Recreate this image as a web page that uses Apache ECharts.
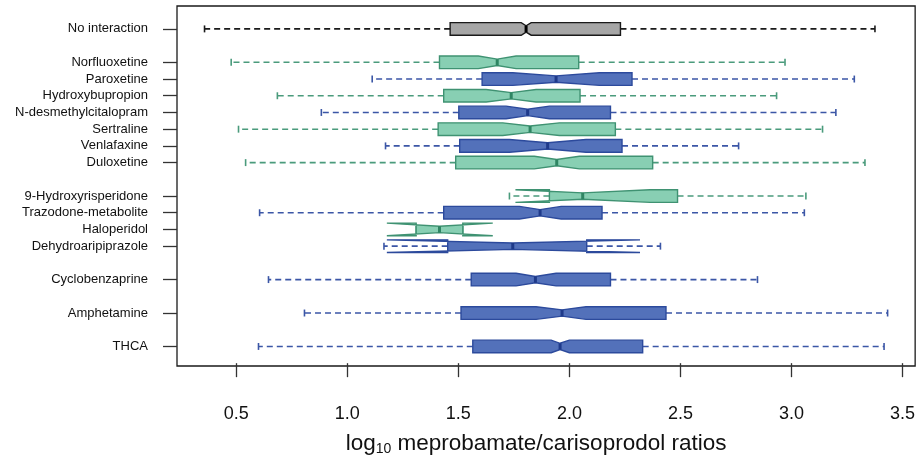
<!DOCTYPE html>
<html><head><meta charset="utf-8">
<script src="https://cdn.jsdelivr.net/npm/echarts@6/dist/echarts.min.js"></script>
<style>html,body{margin:0;padding:0;background:#fff}#c{width:918px;height:461px}</style>
</head><body><div id="c"></div>
<script>
// Rows from top to bottom; '' marks an empty slot between drug groups
const labels = ['No interaction','',
  'Norfluoxetine','Paroxetine','Hydroxybupropion','N-desmethylcitalopram','Sertraline','Venlafaxine','Duloxetine','',
  '9-Hydroxyrisperidone','Trazodone-metabolite','Haloperidol','Dehydroaripiprazole','',
  'Cyclobenzaprine','','Amphetamine','','THCA'];
// group: 0 = reference, 1 = green, 2 = blue
const groups      = [0,null, 1,2,1,2,1,2,1,null, 1,2,1,2,null, 2,null,2,null,2];
const whiskerLow  = [0.357,null, 0.477,1.112,0.685,0.883,0.510,1.172,0.542,null, 1.730,0.605,1.310,1.165,null, 0.645,null,0.807,null,0.600];
const q1          = [1.463,null, 1.415,1.607,1.434,1.502,1.409,1.506,1.488,null, 1.910,1.434,1.310,1.452,null, 1.558,null,1.512,null,1.565];
const median      = [1.805,null, 1.675,1.940,1.738,1.812,1.823,1.902,1.943,null, 2.060,1.868,1.415,1.745,null, 1.847,null,1.967,null,1.958];
const q3          = [2.230,null, 2.042,2.282,2.048,2.185,2.207,2.237,2.375,null, 2.487,2.147,1.520,2.078,null, 2.185,null,2.435,null,2.330];
const whiskerHigh = [3.376,null, 2.971,3.283,2.933,3.200,3.140,2.762,3.331,null, 3.065,3.058,1.520,2.410,null, 2.847,null,3.433,null,3.417];
const notchLow    = [1.783,null, 1.590,1.745,1.625,1.715,1.700,1.730,1.842,null, 1.757,1.775,1.178,1.178,null, 1.760,null,1.850,null,1.918];
const notchHigh   = [1.828,null, 1.760,2.135,1.850,1.910,1.955,2.075,2.045,null, 2.363,1.963,1.655,2.318,null, 1.940,null,2.075,null,2.000];
const xTicks = [0.5,1.0,1.5,2.0,2.5,3.0,3.5];
const xTitle = 'meprobamate/carisoprodol ratios';

const styles = [
  {fill:'#A6A6A6', border:'#1a1a1a', whisker:'#1a1a1a', med:'#000000'},
  {fill:'#88CFB3', border:'#3F9272', whisker:'#4A9B7C', med:'#2F8563'},
  {fill:'#5371BA', border:'#2C4A9C', whisker:'#3B56A6', med:'#1F3A8A'}
];

const n = labels.length;
const slotPos = i => n - i;
const data = [];
const tickPos = [];
labels.forEach((lab, i) => {
  if (!lab) return;
  tickPos.push(slotPos(i));
  data.push([slotPos(i), whiskerLow[i], q1[i], median[i], q3[i], whiskerHigh[i], notchLow[i], notchHigh[i], groups[i]]);
});
const labelAt = {};
labels.forEach((lab, i) => { if (lab) labelAt[slotPos(i)] = lab; });

function renderItem(params, api) {
  const pos = api.value(0);
  const st = styles[api.value(8)];
  const unit = api.size([0, 1])[1];
  const hw = unit * 0.378;
  const y = api.coord([1, pos])[1];
  const X = v => api.coord([v, pos])[0];
  const wlo = X(api.value(1)), b1 = X(api.value(2)), md = X(api.value(3)),
        b3 = X(api.value(4)), whi = X(api.value(5)), nl = X(api.value(6)), nh = X(api.value(7));
  const cap = hw * 0.55;
  const dash = {stroke: st.whisker, lineWidth: 1.6, lineDash: [6, 4]};
  const solid = {stroke: st.whisker, lineWidth: 1.6};
  return {
    type: 'group',
    children: [
      {type:'line', shape:{x1:b1, y1:y, x2:wlo, y2:y}, style: dash},
      {type:'line', shape:{x1:b3, y1:y, x2:whi, y2:y}, style: dash},
      {type:'line', shape:{x1:wlo, y1:y-cap, x2:wlo, y2:y+cap}, style: solid},
      {type:'line', shape:{x1:whi, y1:y-cap, x2:whi, y2:y+cap}, style: solid},
      {type:'polygon', shape:{points:[[b1,y-hw],[nl,y-hw],[md,y-hw/2],[nh,y-hw],[b3,y-hw],
                                      [b3,y+hw],[nh,y+hw],[md,y+hw/2],[nl,y+hw],[b1,y+hw]]},
       style:{fill: st.fill, stroke: st.border, lineWidth: 1.4, lineJoin:'miter'}},
      {type:'line', shape:{x1:md, y1:y-hw/2, x2:md, y2:y+hw/2}, style:{stroke: st.med, lineWidth: 3}}
    ]
  };
}

const font = 'Liberation Sans, Arial, sans-serif';
const chart = echarts.init(document.getElementById('c'), null, {renderer:'canvas'});
chart.setOption({
  animation: false,
  backgroundColor: '#fff',
  grid: {left: 177, right: 2, top: 6, bottom: 93, show: true, borderColor: '#1a1a1a', borderWidth: 1.3, backgroundColor: 'transparent'},
  xAxis: {
    type: 'value', min: 0.233, max: 3.557,
    axisLine: {show: false},
    splitLine: {show: false},
    axisTick: {show: true, inside: false, length: 14, customValues: xTicks, lineStyle: {color: '#333', width: 1.3}},
    axisLabel: {customValues: xTicks, margin: 39, fontSize: 18, color: '#111', fontFamily: font,
      formatter: v => v.toFixed(1)},
    name: '{t|log}{s|10}{t| ' + xTitle + '}',
    nameLocation: 'middle', nameGap: 66,
    nameTextStyle: {padding: [0, 20, 0, 0], rich: {
      t: {fontSize: 22.5, fontFamily: font, color: '#111', lineHeight: 24},
      s: {fontSize: 14, fontFamily: font, color: '#111', lineHeight: 14, verticalAlign: 'bottom'}
    }}
  },
  yAxis: {
    type: 'value', min: -0.17, max: 21.37,
    axisLine: {show: false},
    splitLine: {show: false},
    axisTick: {show: true, inside: false, length: 14, customValues: tickPos, lineStyle: {color: '#333', width: 1.3}},
    axisLabel: {customValues: tickPos, margin: 29, fontSize: 13, color: '#111', fontFamily: font,
      formatter: v => labelAt[Math.round(v)] || ''}
  },
  series: [{
    type: 'custom',
    renderItem: renderItem,
    encode: {x: [1,2,3,4,5,6,7], y: 0},
    data: data,
    clip: false
  }]
});
</script>
</body></html>
